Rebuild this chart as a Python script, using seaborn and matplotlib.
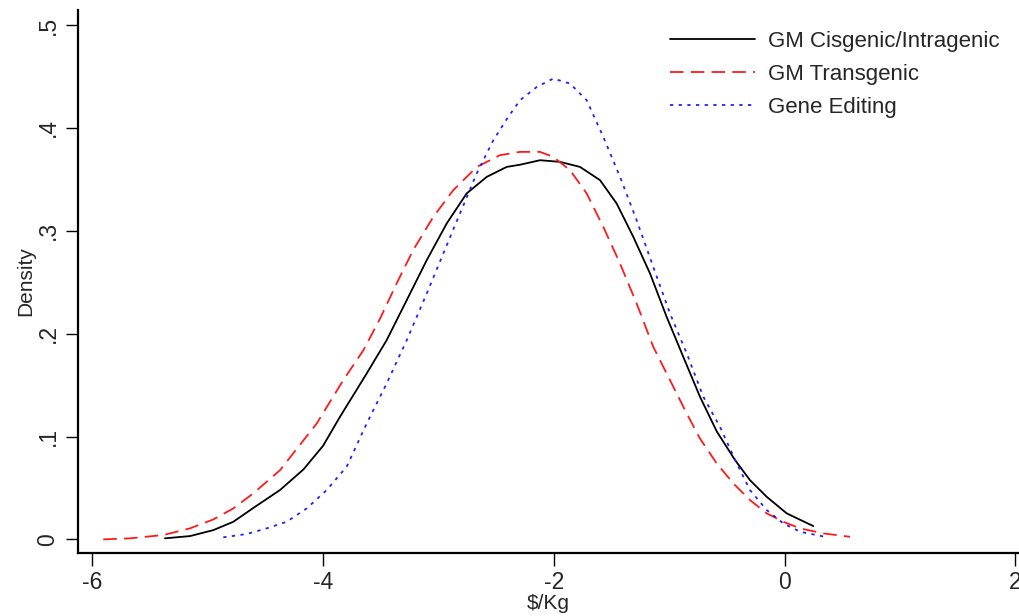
import matplotlib
matplotlib.use('Agg')
from matplotlib import pyplot as plt
import pandas as pd
import seaborn as sb

# curve points (x in $/Kg, density)
cis_x = [-5.37, -5.153, -4.951, -4.778, -4.605, -4.373, -4.17, -4.0, -3.854, -3.622,
         -3.449, -3.275, -3.102, -2.929, -2.756, -2.582, -2.409, -2.294, -2.12, -1.947,
         -1.774, -1.6, -1.456, -1.312, -1.167, -1.023, -0.879, -0.734, -0.589, -0.43,
         -0.301, -0.156, 0.017, 0.248]
cis_y = [0.001, 0.0032, 0.009, 0.0171, 0.0305, 0.048, 0.068, 0.091, 0.1191, 0.1613,
         0.1937, 0.2326, 0.2714, 0.3071, 0.3363, 0.3524, 0.3621, 0.3642, 0.3686, 0.367,
         0.3621, 0.3492, 0.3265, 0.2941, 0.2585, 0.2163, 0.1775, 0.1386, 0.105, 0.077,
         0.0576, 0.0414, 0.0253, 0.0129]

trans_x = [-5.905, -5.673, -5.385, -5.153, -4.951, -4.778, -4.605, -4.373, -4.055, -3.825,
           -3.65, -3.507, -3.362, -3.218, -3.045, -2.872, -2.669, -2.467, -2.294, -2.12,
           -2.005, -1.86, -1.716, -1.572, -1.427, -1.283, -1.139, -0.994, -0.849, -0.734,
           -0.589, -0.445, -0.301, -0.156, -0.012, 0.133, 0.335, 0.566]
trans_y = [0.0, 0.001, 0.0042, 0.0107, 0.0194, 0.0301, 0.0447, 0.0673, 0.1127, 0.1548,
           0.184, 0.2145, 0.249, 0.2815, 0.3135, 0.3395, 0.362, 0.3735, 0.3767, 0.3767,
           0.3718, 0.3589, 0.3363, 0.3038, 0.2682, 0.2293, 0.1872, 0.1548, 0.1224, 0.098,
           0.0738, 0.0544, 0.0382, 0.0253, 0.0171, 0.0107, 0.0058, 0.0025]

edit_x = [-4.865, -4.662, -4.489, -4.316, -4.142, -3.969, -3.796, -3.622, -3.449, -3.275,
          -3.102, -2.958, -2.814, -2.669, -2.525, -2.4, -2.294, -2.149, -2.005, -1.86,
          -1.716, -1.572, -1.427, -1.283, -1.139, -0.994, -0.849, -0.705, -0.561, -0.416,
          -0.301, -0.156, -0.012, 0.133, 0.35]
edit_y = [0.002, 0.0052, 0.0107, 0.0171, 0.0301, 0.0479, 0.0706, 0.1127, 0.1516, 0.1937,
          0.239, 0.278, 0.3168, 0.3557, 0.388, 0.41, 0.4269, 0.4398, 0.448, 0.4431,
          0.4269, 0.3913, 0.3524, 0.3103, 0.2649, 0.2196, 0.1808, 0.1386, 0.1094, 0.074,
          0.0479, 0.0285, 0.0155, 0.0074, 0.0025]

labels = ['GM Cisgenic/Intragenic', 'GM Transgenic', 'Gene Editing']
xticks = [-6, -4, -2, 0, 2]
yticks = [0, 0.1, 0.2, 0.3, 0.4, 0.5]
yticklabels = ['0', '.1', '.2', '.3', '.4', '.5']

sb.set_theme(style='white')
plt.rcParams['font.family'] = ['Liberation Sans', 'DejaVu Sans']

fig = plt.figure(figsize=(10.2, 6.16), dpi=100)
ax = fig.add_axes([0.076, 0.1027, 0.924, 0.881])

series = [(cis_x, cis_y, 'black', '-'),
          (trans_x, trans_y, '#ff1a1a', (0, (7.5, 4.0))),
          (edit_x, edit_y, '#2020ff', (0, (1.8, 3.0)))]
for (xs, ys, col, ls), lab in zip(series, labels):
    df = pd.DataFrame({'x': xs, 'y': ys})
    sb.lineplot(data=df, x='x', y='y', color=col, linestyle=ls, linewidth=1.3,
                sort=False, label=lab, ax=ax)

ax.set_xlim(-6.128, 2.039)
ax.set_ylim(-0.013, 0.5146)
ax.set_xticks(xticks)
ax.set_xticklabels([str(t) for t in xticks])
ax.set_yticks(yticks)
ax.set_yticklabels(yticklabels, rotation=90, va='center')
ax.set_xlabel('$/Kg', fontsize=15, labelpad=0)
ax.set_ylabel('Density', fontsize=15, labelpad=1)
ax.tick_params(axis='both', labelsize=16.5, length=9, width=1.0, color='black',
               direction='out', pad=4, left=True, bottom=True)

for side in ['top', 'right']:
    ax.spines[side].set_visible(False)
for side in ['left', 'bottom']:
    ax.spines[side].set_color('black')
    ax.spines[side].set_linewidth(1.6)

leg = ax.legend(loc='upper left', bbox_to_anchor=(0.657, 0.95),
                bbox_transform=fig.transFigure, frameon=False, fontsize=16,
                handlelength=3.8, handletextpad=0.6, labelspacing=0.55,
                borderpad=0, borderaxespad=0)

fig.savefig('out.png', dpi=100)
